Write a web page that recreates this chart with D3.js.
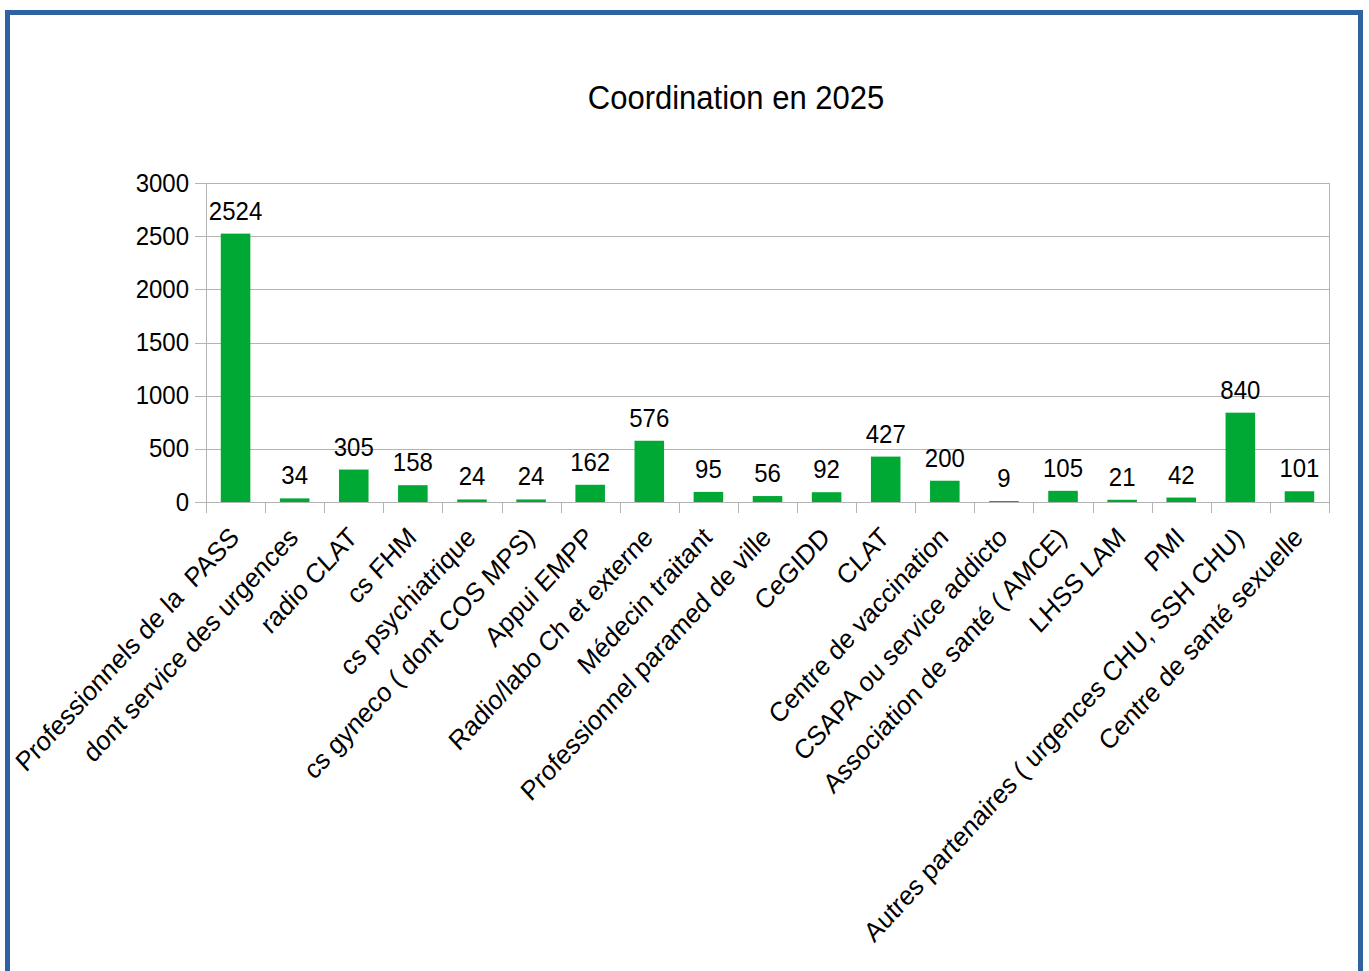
<!DOCTYPE html>
<html>
<head>
<meta charset="utf-8">
<script src="https://cdn.jsdelivr.net/npm/d3@7"></script>
<style>
  html, body { margin: 0; padding: 0; background: #fff; }
  svg { display: block; }
  text { font-family: "Liberation Sans", Arial, sans-serif; fill: #000; }
</style>
</head>
<body>
<svg id="chart" width="1369" height="971"></svg>
<script>
// Coordination partners and number of coordinations in 2025
const categories = [
  "Professionnels de la  PASS",
  "dont service des urgences",
  "radio CLAT",
  "cs FHM",
  "cs psychiatrique",
  "cs gyneco ( dont COS MPS)",
  "Appui EMPP",
  "Radio/labo Ch et externe",
  "Médecin traitant",
  "Professionnel paramed de ville",
  "CeGIDD",
  "CLAT",
  "Centre de vaccination",
  "CSAPA ou service addicto",
  "Association de santé ( AMCE)",
  "LHSS LAM",
  "PMI",
  "Autres partenaires ( urgences CHU, SSH CHU)",
  "Centre de santé sexuelle"
];
const values = [2524, 34, 305, 158, 24, 24, 162, 576, 95, 56, 92, 427, 200, 9, 105, 21, 42, 840, 101];
const yTicks = [0, 500, 1000, 1500, 2000, 2500, 3000];
const title = "Coordination en 2025";

// glyphs are drawn slightly taller than wide
const stretch = 1.09;

const svg = d3.select("#chart");

// outer frame
svg.append("rect")
  .attr("x", 7.5).attr("y", 12.5)
  .attr("width", 1353).attr("height", 990)
  .attr("fill", "none")
  .attr("stroke", "#2e62a0")
  .attr("stroke-width", 5);

const plot = { left: 206, right: 1329, top: 183, bottom: 502 };

const x = d3.scaleBand()
  .domain(categories)
  .range([plot.left, plot.right])
  .padding(0);

const y = d3.scaleLinear()
  .domain([0, 3000])
  .range([plot.bottom, plot.top]);

const grid = "#b3b3b3";

// horizontal gridlines with small outer ticks
svg.append("g")
  .selectAll("line")
  .data(yTicks)
  .join("line")
  .attr("x1", plot.left - 11).attr("x2", plot.right)
  .attr("y1", d => Math.round(y(d)) + 0.5)
  .attr("y2", d => Math.round(y(d)) + 0.5)
  .attr("stroke", grid).attr("stroke-width", 1);

// y axis labels
svg.append("g")
  .selectAll("text")
  .data(yTicks)
  .join("text")
  .attr("transform", d => `translate(${plot.left - 17},${y(d) + 8.5}) scale(1,${stretch})`)
  .attr("text-anchor", "end")
  .style("font-size", "24px")
  .text(d => d);

// vertical frame lines on the left and right of the plot
[plot.left, plot.right].forEach(px => {
  svg.append("line")
    .attr("x1", px + 0.5).attr("x2", px + 0.5)
    .attr("y1", plot.top).attr("y2", plot.bottom + 11)
    .attr("stroke", grid).attr("stroke-width", 1);
});

// category boundary ticks below the axis
const bounds = categories.map(c => x(c)).concat([plot.right]);
svg.append("g")
  .selectAll("line")
  .data(bounds)
  .join("line")
  .attr("x1", d => Math.round(d) + 0.5).attr("x2", d => Math.round(d) + 0.5)
  .attr("y1", plot.bottom).attr("y2", plot.bottom + 11)
  .attr("stroke", grid).attr("stroke-width", 1);

// bars
const bw = x.bandwidth();
svg.append("g")
  .selectAll("rect")
  .data(values)
  .join("rect")
  .attr("x", (d, i) => x(categories[i]) + bw / 4)
  .attr("width", bw / 2)
  .attr("y", d => y(d))
  .attr("height", d => y(0) - y(d))
  .attr("fill", "#00a933");

// value labels above bars
svg.append("g")
  .selectAll("text")
  .data(values)
  .join("text")
  .attr("transform", (d, i) => `translate(${x(categories[i]) + bw / 2},${y(d) - 14}) scale(1,${stretch})`)
  .attr("text-anchor", "middle")
  .style("font-size", "24px")
  .text(d => d);

// rotated category labels
svg.append("g")
  .selectAll("text")
  .data(categories)
  .join("text")
  .attr("transform", d => `translate(${x(d) + bw / 2 + 5},539) scale(1,${stretch}) rotate(-45)`)
  .attr("text-anchor", "end")
  .style("font-size", "25px")
  .style("white-space", "pre")
  .text(d => d);

// title
svg.append("text")
  .attr("transform", `translate(736,109) scale(1,${stretch})`)
  .attr("text-anchor", "middle")
  .style("font-size", "31px")
  .text(title);
</script>
</body>
</html>
